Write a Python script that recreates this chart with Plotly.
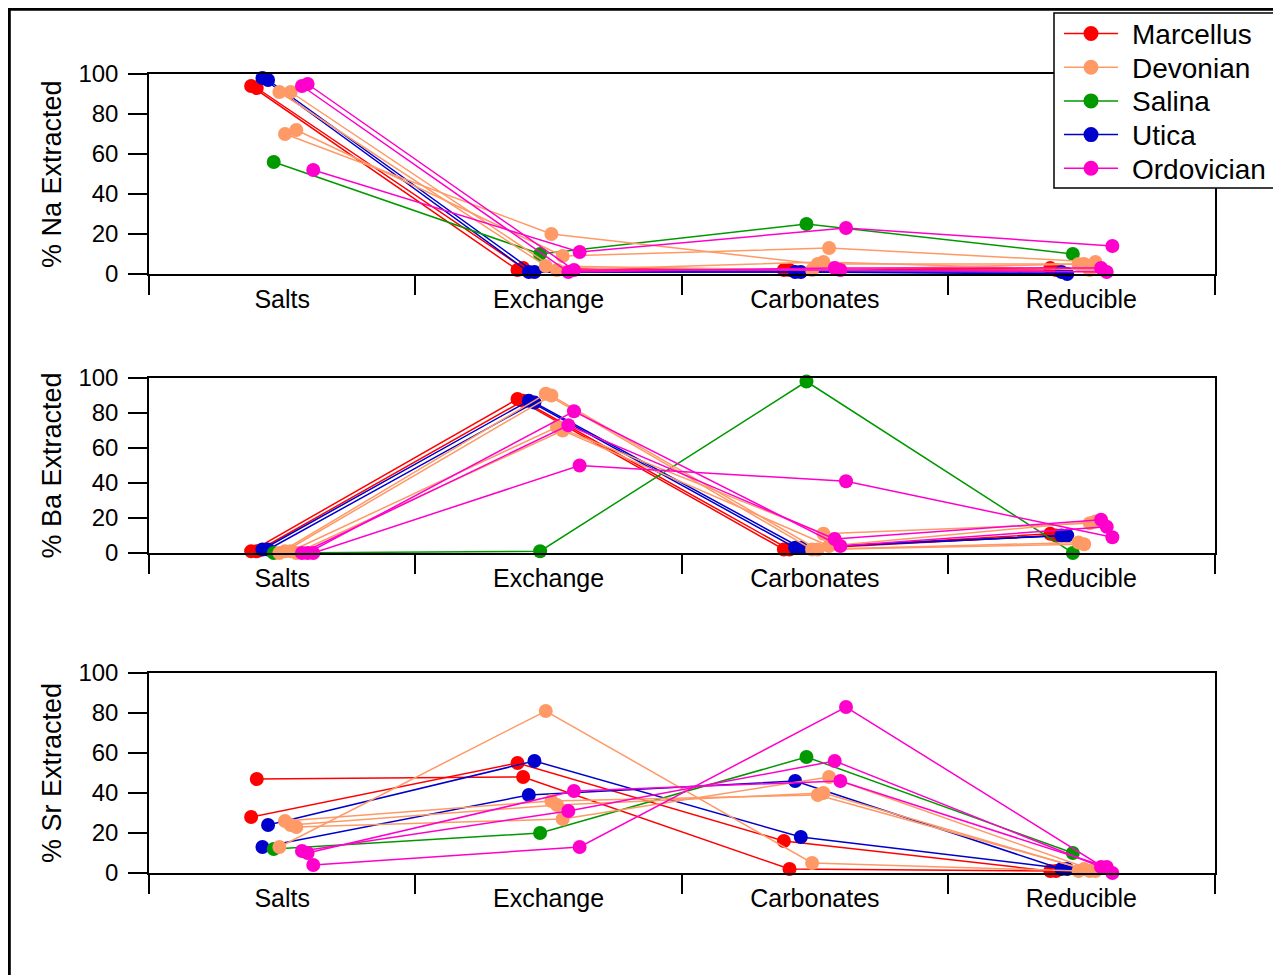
import plotly.graph_objects as go

# ---------------- data ----------------
categories = ["Salts", "Exchange", "Carbonates", "Reducible"]
formations = ["Marcellus", "Devonian", "Salina", "Utica", "Ordovician"]
formation_colors = ["#FF0000", "#FF9966", "#009900", "#0000CC", "#FF00CC"]
draw_order = ["Marcellus", "Utica", "Salina", "Devonian", "Ordovician"]

# one entry per sample (samples ordered as they are spread within each category)
sample_formation = ["Marcellus", "Marcellus", "Utica", "Utica", "Salina",
                    "Devonian", "Devonian", "Devonian", "Devonian",
                    "Ordovician", "Ordovician", "Ordovician"]

# % extracted per sample, in category order (Salts, Exchange, Carbonates, Reducible)
na_values = [[94, 2, 2, 3], [93, 3, 2, 2], [98, 1, 1, 1], [97, 1, 1, 0],
             [56, 10, 25, 10], [91, 4, 2, 5], [70, 20, 5, 5], [91, 2, 6, 2],
             [72, 9, 13, 6], [94, 1, 3, 3], [95, 2, 2, 1], [52, 11, 23, 14]]
ba_values = [[1, 88, 2, 11], [1, 87, 2, 10], [2, 87, 3, 10], [2, 86, 3, 10],
             [0, 1, 98, 0], [0, 91, 2, 6], [1, 90, 2, 5], [1, 72, 11, 17],
             [0, 70, 4, 18], [0, 73, 8, 19], [0, 81, 4, 15], [0, 50, 41, 9]]
sr_values = [[28, 55, 16, 1], [47, 48, 2, 1], [13, 39, 46, 2], [24, 56, 18, 2],
             [12, 20, 58, 10], [13, 81, 5, 1], [26, 36, 39, 2], [24, 34, 40, 1],
             [23, 27, 48, 1], [11, 31, 56, 3], [10, 41, 46, 3], [4, 13, 83, 0]]

panel_titles = ["% Na Extracted", "% Ba Extracted", "% Sr Extracted"]
y_ticks = [0, 20, 40, 60, 80, 100]

# ---------------- styling / layout constants ----------------
OFF = 8                      # page body margin
W, H = 1281 - OFF, 975 - OFF
FONT = "Liberation Sans, Arial, sans-serif"
spread = 0.0212              # horizontal spacing between samples inside a category
x_left, x_right = 149 - OFF, 1214.5 - OFF
panel_px = [(74 - OFF, 274 - OFF), (378 - OFF, 553 - OFF), (673 - OFF, 873 - OFF)]


def px_x(v):
    return v / W


def px_y(v):
    return 1 - v / H


color_of = dict(zip(formations, formation_colors))
panels = [na_values, ba_values, sr_values]

fig = go.Figure()

for p, values in enumerate(panels):
    axn = "" if p == 0 else str(p + 1)
    for form in draw_order:
        xs, ys = [], []
        for i, sf in enumerate(sample_formation):
            if sf != form:
                continue
            for c in range(len(categories)):
                xs.append(c + 0.5 + (i - 5.5) * spread)
                ys.append(values[i][c])
            xs.append(None)
            ys.append(None)
        fig.add_trace(go.Scatter(
            x=xs, y=ys, mode="lines+markers", name=form,
            line=dict(color=color_of[form], width=1.5),
            marker=dict(color=color_of[form], size=14),
            showlegend=False, cliponaxis=False,
            xaxis="x" + axn, yaxis="y" + axn,
        ))

layout_axes = {}
for p in range(3):
    axn = "" if p == 0 else str(p + 1)
    top, bot = panel_px[p]
    layout_axes["xaxis" + axn] = dict(
        domain=[px_x(x_left), px_x(x_right)], range=[0, 4], anchor="y" + axn,
        showline=True, linecolor="black", linewidth=1.5, mirror=True,
        tickmode="array", tickvals=[c + 0.5 for c in range(len(categories))],
        ticktext=categories, ticks="", ticklabelstandoff=2,
        tickfont=dict(family=FONT, size=25, color="black"),
        minor=dict(tickmode="array", tickvals=list(range(len(categories) + 1)),
                   ticks="outside", ticklen=19, tickwidth=1.5, tickcolor="black"),
        showgrid=False, zeroline=False, automargin=False, fixedrange=True,
    )
    layout_axes["yaxis" + axn] = dict(
        domain=[px_y(bot), px_y(top)], range=[0, 100], anchor="x" + axn,
        showline=True, linecolor="black", linewidth=1.5, mirror=True,
        tickmode="array", tickvals=y_ticks, ticks="outside", ticklen=19,
        tickwidth=1.5, tickcolor="black", ticklabelstandoff=5,
        tickfont=dict(family=FONT, size=24, color="black"),
        showgrid=False, zeroline=False, automargin=False, fixedrange=True,
    )

annotations = []
for p in range(3):
    top, bot = panel_px[p]
    annotations.append(dict(
        text=panel_titles[p], xref="paper", yref="paper",
        x=px_x(52 - OFF), y=px_y((top + bot) / 2), xanchor="center", yanchor="middle",
        textangle=-90, showarrow=False,
        font=dict(family=FONT, size=27, color="black"),
    ))

# ---- outer frame ----
shapes = [dict(type="rect", xref="paper", yref="paper",
               x0=px_x(9.3 - OFF), x1=px_x(1278 - OFF), y0=-0.05, y1=px_y(9.3 - OFF),
               line=dict(color="black", width=3), layer="below")]

# ---- key (legend box) ----
box_l, box_r, box_t, box_b = 1054 - OFF, 1276 - OFF, 13 - OFF, 188 - OFF
shapes.append(dict(type="rect", xref="paper", yref="paper",
                   x0=px_x(box_l), x1=px_x(box_r), y0=px_y(box_b), y1=px_y(box_t),
                   fillcolor="white", line=dict(color="black", width=1.5), layer="above"))
item_y0, item_pitch = 33.5 - OFF, 33.7
for k, form in enumerate(formations):
    yy = px_y(item_y0 + k * item_pitch)
    shapes.append(dict(type="line", xref="paper", yref="paper",
                       x0=px_x(1064 - OFF), x1=px_x(1118 - OFF), y0=yy, y1=yy,
                       line=dict(color=color_of[form], width=1.5), layer="above"))
    shapes.append(dict(type="circle", xref="paper", yref="paper",
                       xsizemode="pixel", ysizemode="pixel",
                       xanchor=px_x(1091 - OFF), yanchor=yy,
                       x0=-7.5, x1=7.5, y0=-7.5, y1=7.5,
                       fillcolor=color_of[form], line=dict(width=0), layer="above"))
    annotations.append(dict(
        text=form, xref="paper", yref="paper",
        x=px_x(1130 - OFF), y=px_y(item_y0 + k * item_pitch + 1),
        xanchor="left", yanchor="middle", showarrow=False,
        font=dict(family=FONT, size=28, color="black"),
    ))

fig.update_layout(
    width=W, height=H, autosize=False,
    margin=dict(l=0, r=0, t=0, b=0, pad=0),
    template="none",
    paper_bgcolor="white", plot_bgcolor="rgba(0,0,0,0)",
    font=dict(family=FONT, size=24, color="black"),
    showlegend=False,
    annotations=annotations,
    shapes=shapes,
    **layout_axes,
)

fig.write_html("out.html")
